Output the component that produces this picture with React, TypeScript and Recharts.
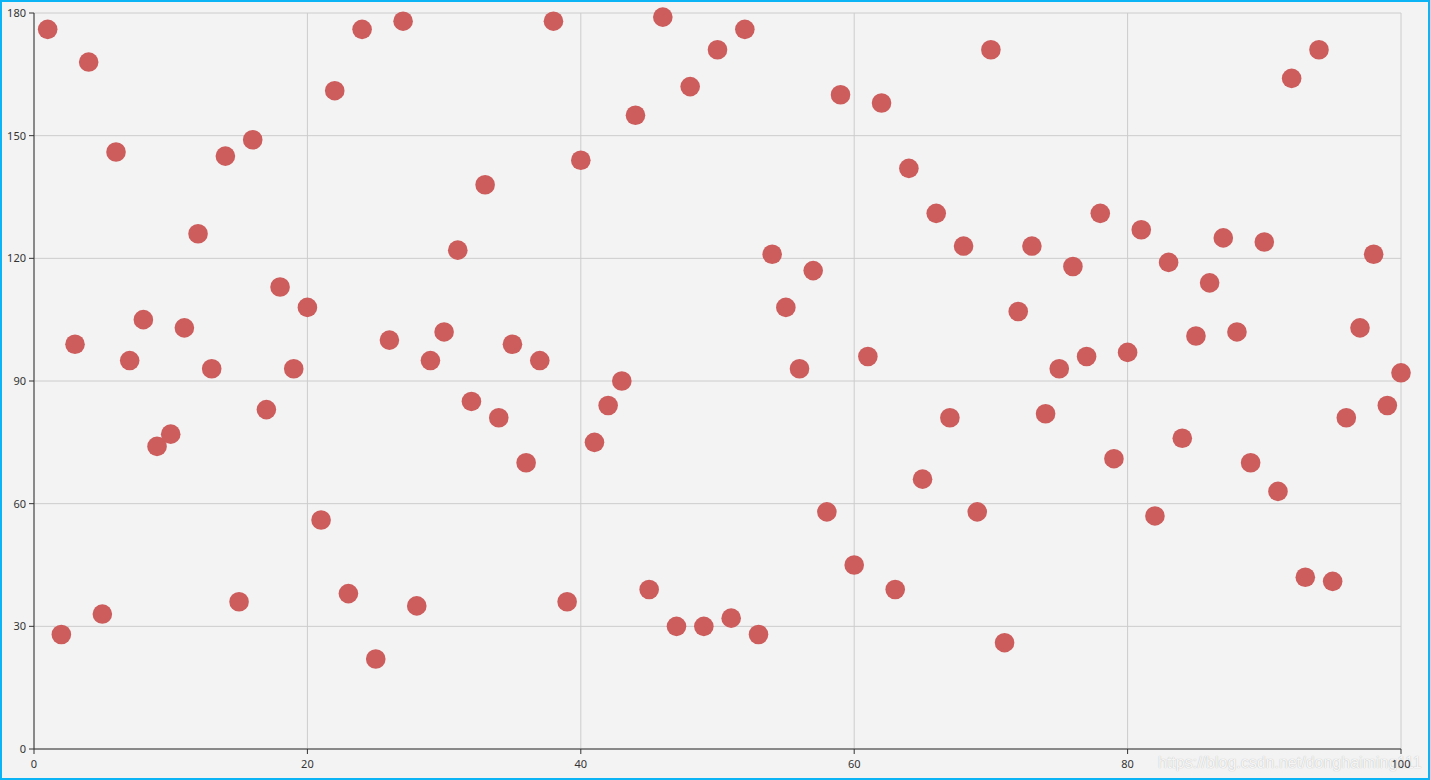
import React from 'react';
import {
  ScatterChart,
  Scatter,
  XAxis,
  YAxis,
  CartesianGrid,
} from 'recharts';

// y values, x runs 1..100
const yValues = [
  176, 28, 99, 168, 33, 146, 95, 105, 74, 77,
  103, 126, 93, 145, 36, 149, 83, 113, 93, 108,
  56, 161, 38, 176, 22, 100, 178, 35, 95, 102,
  122, 85, 138, 81, 99, 70, 95, 178, 36, 144,
  75, 84, 90, 155, 39, 179, 30, 162, 30, 171,
  32, 176, 28, 121, 108, 93, 117, 58, 160, 45,
  96, 158, 39, 142, 66, 131, 81, 123, 58, 171,
  26, 107, 123, 82, 93, 118, 96, 131, 71, 97,
  127, 57, 119, 76, 101, 114, 125, 102, 70, 124,
  63, 164, 42, 171, 41, 81, 103, 121, 84, 92,
];
const xValues = yValues.map((_, i) => i + 1);

const xTicks = [0, 20, 40, 60, 80, 100];
const yTicks = [0, 30, 60, 90, 120, 150, 180];

const points = xValues.map((x, i) => ({ x, y: yValues[i] }));

const Dot = (props: any) => (
  <circle cx={props.cx} cy={props.cy} r={9.8} fill="#cd5c5c" />
);

export default function App() {
  const tickStyle = { fontSize: 11, fill: '#333', fontFamily: 'Noto Sans' };
  return (
    <div
      style={{
        position: 'absolute',
        left: 0,
        top: 0,
        width: 1430,
        height: 780,
        boxSizing: 'border-box',
        border: '2px solid #0ab4f5',
        background: '#f3f3f3',
        fontFamily: 'Noto Sans',
      }}
    >
      <div
        style={{
          position: 'absolute',
          left: 1156,
          top: 751,
          fontSize: 16,
          lineHeight: '20px',
          color: 'rgba(255,255,255,0.9)',
          textShadow: '0 0 1px rgba(0,0,0,0.3)',
          whiteSpace: 'nowrap',
          fontFamily: '"Liberation Sans", Arial, sans-serif',
        }}
      >
        https://blog.csdn.net/donghaiming111
      </div>
      <div style={{ position: 'absolute', left: 0, top: 0 }}>
        <ScatterChart
          width={1426}
          height={776}
          margin={{ top: 11, right: 27, left: 0, bottom: 0 }}
        >
          <CartesianGrid stroke="#cccccc" />
          <XAxis
            type="number"
            dataKey="x"
            domain={[0, 100]}
            ticks={xTicks}
            height={29}
            stroke="#333"
            tick={tickStyle}
            tickSize={5}
            tickMargin={6}
          />
          <YAxis
            type="number"
            dataKey="y"
            domain={[0, 180]}
            ticks={yTicks}
            width={32}
            stroke="#333"
            tick={tickStyle}
            tickSize={5}
            tickMargin={3}
          />
          <Scatter data={points} shape={<Dot />} isAnimationActive={false} />
        </ScatterChart>
      </div>
    </div>
  );
}
